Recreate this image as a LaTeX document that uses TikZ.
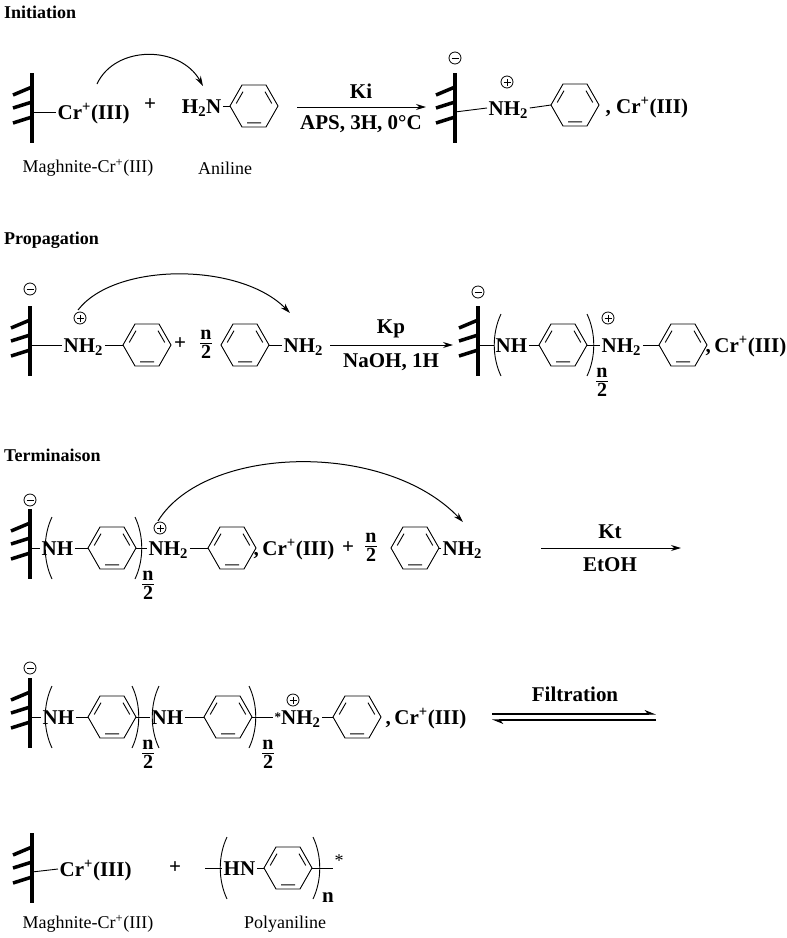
\documentclass[tikz,border=0pt]{standalone}
\usepackage{fontspec}
\setmainfont{Liberation Serif}
\usetikzlibrary{arrows.meta}
\tikzset{
 t/.style={font=\fontsize{21}{24}\selectfont\bfseries, inner sep=1.5pt, text height=14pt, text depth=0pt},
 lab/.style={font=\fontsize{18}{20}\selectfont, inner sep=1pt},
 head/.style={font=\fontsize{18}{20}\selectfont\bfseries, anchor=west, inner sep=0pt},
 cond/.style={font=\fontsize{21}{23}\selectfont\bfseries, inner sep=1pt},
 fr/.style={font=\fontsize{20}{20}\selectfont\bfseries, inner sep=0pt},
 bondline/.style={line width=0.9pt, line join=miter},
 chg/.style={circle, draw, line width=0.8pt, minimum size=12pt, inner sep=0pt},
 rxn/.style={line width=1pt, -{Stealth[length=10pt,width=6pt]}},
 curv/.style={line width=1pt, -{Stealth[length=10pt,width=6pt]}},
 harp/.style={line width=1.1pt, -{Stealth[length=10pt,width=8pt,harpoon]}},
}
\newcommand\benz[3]{%
 \coordinate (#1-l) at (#2-24,#3); \coordinate (#1-r) at (#2+24,#3);
 \begin{scope}[shift={(#2,#3)}]
 \draw[bondline] (-24,0)--(-12,-21)--(12,-21)--(24,0)--(12,21)--(-12,21)--cycle;
 \draw[bondline] (-17.8,-2.5)--(-11,-14.3) (17.8,-2.5)--(11,-14.3) (-7,16.8)--(7,16.8);
 \end{scope}}
\newcommand\surf[3]{%
 \coordinate (#1) at (#2,#3);
 \begin{scope}[shift={(#2,#3)}]
 \draw[line width=4pt] (0,-39)--(0,31);
 \draw[line width=3.5pt] (-19,-17)--(0,-25) (-19,-4)--(0,-10) (-19,11)--(0,5);
 \end{scope}}
\newcommand\negc[3]{\node[chg] (#1) at (#2,#3) {}; \draw[line width=0.9pt] ([xshift=-3.5pt]#1.center)--([xshift=3.5pt]#1.center);}
\newcommand\posc[3]{\node[chg] (#1) at (#2,#3) {}; \draw[line width=0.9pt] ([xshift=-3.5pt]#1.center)--([xshift=3.5pt]#1.center) ([yshift=-3.5pt]#1.center)--([yshift=3.5pt]#1.center);}
\newcommand\lp[2]{\draw[line width=0.9pt] (#1+5,#2-31) .. controls (#1-4,#2-12) and (#1-4,#2+12) .. (#1+5,#2+31);}
\newcommand\rp[2]{\draw[line width=0.9pt] (#1-5,#2-31) .. controls (#1+4,#2-12) and (#1+4,#2+12) .. (#1-5,#2+31);}
\newcommand\frc[3]{\node[fr] (#1) at (#2,#3) {\begin{tabular}{@{}c@{}}n\\[-3pt]\hline\rule{0pt}{15pt}2\end{tabular}};}
\begin{document}
\begin{tikzpicture}[x=1pt,y=-1pt]
\fill[white] (0,0) rectangle (787,938);
\useasboundingbox (0,0) rectangle (787,938);
% ---------- Initiation
\node[head] (h1) at (4,12) {Initiation};
\surf{s1}{32}{112}
\node[t,anchor=west] (cr1) at (56,112) {Cr\textsuperscript{+}(III)};
\draw[bondline] (s1) -- (cr1.west);
\node[t] (pl1) at (150,103) {+};
\node[t,anchor=east] (h2n) at (223,106) {H\textsubscript{2}N};
\benz{a1}{254}{106}
\draw[bondline] (h2n.east) -- (a1-l);
\coordinate (c1s) at (97,84); \coordinate (c1e) at (203,86);
\draw[curv] (c1s) .. controls (115,45) and (180,45) .. (c1e);
\coordinate (ar1s) at (297,107); \coordinate (ar1e) at (426,107);
\draw[rxn] (ar1s) -- (ar1e);
\node[cond] (ki) at (361,91) {Ki};
\node[cond] (aps) at (361,124) {APS, 3H, 0°C};
\negc{m1}{455}{58}
\surf{s2}{455}{112}
\node[t,anchor=west] (nh1) at (487,108) {NH\textsubscript{2}};
\posc{p1}{507}{82}
\draw[bondline] (s2) -- (nh1.west);
\benz{a2}{575}{105}
\draw[bondline] (nh1.east) -- (a2-l);
\node[t,anchor=west] (cr2) at (604,106) {,\ Cr\textsuperscript{+}(III)};
\node[lab] (l1) at (88,168) {Maghnite-Cr\textsuperscript{+}(III)};
\node[lab] (l2) at (225,168) {Aniline};
% ---------- Propagation
\node[head] (h2) at (4,240) {Propagation};
\negc{m2}{30}{289}
\surf{s3}{30}{345}
\node[t,anchor=west] (nh2) at (62,345) {NH\textsubscript{2}};
\posc{p2}{80}{318}
\draw[bondline] (s3) -- (nh2.west);
\benz{a3}{147}{345}
\draw[bondline] (nh2.east) -- (a3-l);
\node[t] (pl3x) at (180,342) {+};
\frc{f1}{206}{345}
\benz{a4}{245}{345}
\node[t,anchor=west] (nh3) at (282,345) {NH\textsubscript{2}};
\draw[bondline] (a4-r) -- (nh3.west);
\coordinate (c2s) at (78,310); \coordinate (c2e) at (290,313);
\draw[curv] (c2s) .. controls (115,262) and (240,262) .. (c2e);
\coordinate (ar2s) at (330,345); \coordinate (ar2e) at (453,345);
\draw[rxn] (ar2s) -- (ar2e);
\node[cond] (kp) at (391,329) {Kp};
\node[cond] (naoh) at (391,362) {NaOH, 1H};
\negc{m3}{478}{292}
\surf{s4}{478}{345}
\lp{496}{345}
\node[t,anchor=west] (nh4) at (494,345) {NH};
\draw[bondline] (s4) -- (nh4.west);
\benz{a5}{563}{345}
\draw[bondline] (nh4.east) -- (a5-l);
\rp{592}{345}
\frc{f2}{602}{383}
\node[t,anchor=west] (nh5) at (600,345) {NH\textsubscript{2}};
\posc{p3}{608}{318}
\draw[bondline] (a5-r) -- (nh5.west);
\benz{a6}{683}{345}
\draw[bondline] (nh5.east) -- (a6-l);
\node[t,anchor=west] (cr3) at (704,345) {,\,Cr\textsuperscript{+}(III)};
% ---------- Terminaison
\node[head] (h3) at (4,455) {Terminaison};
\negc{m4}{30}{500}
\surf{s5}{30}{548}
\lp{47}{548}
\node[t,anchor=west] (nh6) at (40,548) {NH};
\draw[bondline] (s5) -- (nh6.west);
\benz{a7}{112}{548}
\draw[bondline] (nh6.east) -- (a7-l);
\rp{140}{548}
\frc{f3}{148}{586}
\node[t,anchor=west] (nh7) at (147,548) {NH\textsubscript{2}};
\posc{p4}{160}{528}
\draw[bondline] (a7-r) -- (nh7.west);
\benz{a8}{232}{548}
\draw[bondline] (nh7.east) -- (a8-l);
\node[t,anchor=west] (cr4) at (252,548) {,\,Cr\textsuperscript{+}(III)};
\node[t] (pl3) at (348,546) {+};
\frc{f4}{371}{548}
\benz{a9}{415}{548}
\node[t,anchor=west] (nh8) at (441,548) {NH\textsubscript{2}};
\draw[bondline] (a9-r) -- (nh8.west);
\coordinate (c3s) at (158,521); \coordinate (c3e) at (463,522);
\draw[curv] (c3s) .. controls (205,445) and (385,440) .. (c3e);
\coordinate (ar3s) at (541,548); \coordinate (ar3e) at (681,548);
\draw[rxn] (ar3s) -- (ar3e);
\node[cond] (kt) at (610,532) {Kt};
\node[cond] (etoh) at (610,565) {EtOH};
% ---------- Row 4
\negc{m5}{30}{668}
\surf{s6}{30}{717}
\lp{47}{717}
\node[t,anchor=west] (nh9) at (41,717) {NH};
\draw[bondline] (s6) -- (nh9.west);
\benz{b1}{112}{717}
\draw[bondline] (nh9.east) -- (b1-l);
\rp{137}{717}
\frc{f5}{148}{755}
\lp{154}{717}
\node[t,anchor=west] (nh10) at (150,717) {NH};
\draw[bondline] (b1-r) -- (nh10.west);
\benz{b2}{228}{717}
\draw[bondline] (nh10.east) -- (b2-l);
\rp{254}{717}
\frc{f6}{268}{755}
\node[t,anchor=west] (nh11) at (273,717) {{\fontsize{13}{13}\selectfont\raisebox{3pt}{*}}NH\textsubscript{2}};
\posc{p5}{293}{700}
\draw[bondline] (b2-r) -- (nh11.west);
\benz{b3}{357}{717}
\draw[bondline] (nh11.east) -- (b3-l);
\node[t,anchor=west] (cr5) at (384,717) {,\,Cr\textsuperscript{+}(III)};
\node[cond] (filt) at (575,694) {Filtration};
\coordinate (q1) at (492,714); \coordinate (q2) at (656,714);
\coordinate (q3) at (656,720); \coordinate (q4) at (492,720);
\draw[harp] (q1) -- (q2);
\draw[harp] (q3) -- (q4);
% ---------- Row 5
\surf{s7}{32}{872}
\node[t,anchor=west] (cr6) at (58,869) {Cr\textsuperscript{+}(III)};
\draw[bondline] (s7) -- (cr6.west);
\node[t] (pl4) at (175,866) {+};
\coordinate (d1) at (205,868);
\lp{222}{868}
\node[t,anchor=west] (hn) at (222,868) {HN};
\draw[bondline] (d1) -- (hn.west);
\benz{b4}{288}{868}
\draw[bondline] (hn.east) -- (b4-l);
\rp{318}{868}
\coordinate (d2) at (333,868);
\draw[bondline] (b4-r) -- (d2);
\node[lab] (star) at (339,861) {*};
\node[t] (nn) at (328,895) {n};
\node[lab] (l3) at (88,924) {Maghnite-Cr\textsuperscript{+}(III)};
\node[lab] (l4) at (285,924) {Polyaniline};
\end{tikzpicture}
\end{document}
